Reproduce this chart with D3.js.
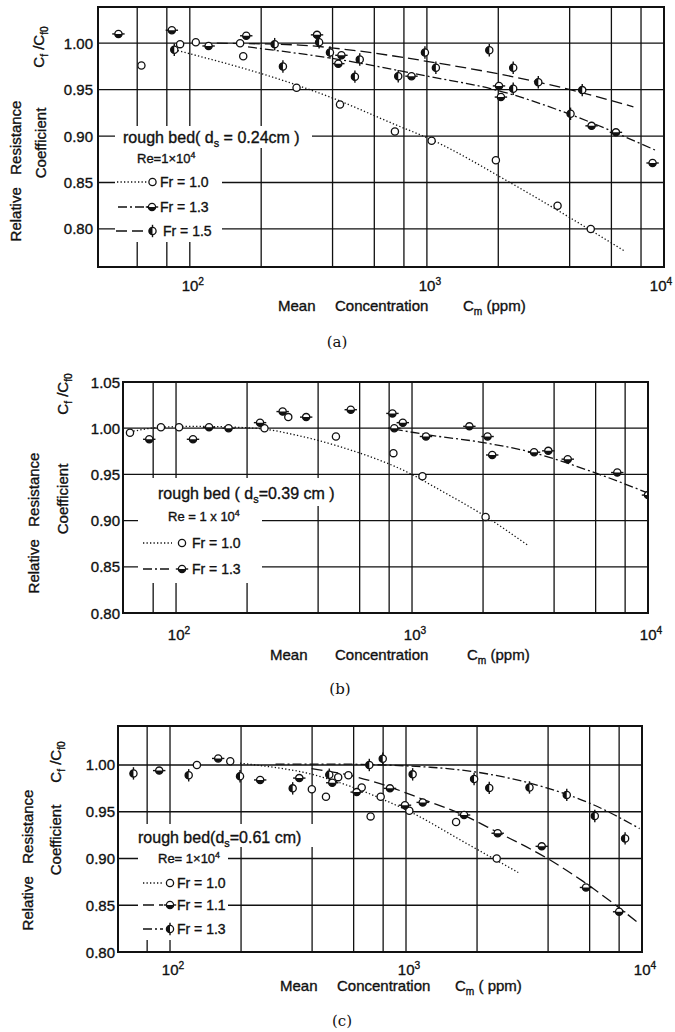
<!DOCTYPE html>
<html><head><meta charset="utf-8">
<script src="https://cdn.jsdelivr.net/npm/d3@7"></script>
<style>
body{margin:0;background:#fff}
svg text{font-family:"Liberation Sans",Arial,sans-serif;fill:#111;stroke:#111;stroke-width:0.35px}
svg text.cap{font-family:"DejaVu Serif","Liberation Serif",serif;stroke-width:0}
</style>
</head><body>
<svg id="c" width="675" height="1032"></svg>
<script>
// ---------- data ----------
const gridX = [60, 80, 100, 200, 400, 600, 800, 1000, 2000, 4000, 6000, 8000];
const xTickVals = [100, 1000, 10000];
const xTickExp = ["2", "3", "4"];
const yTicksA = [0.80, 0.85, 0.90, 0.95, 1.00];
const yTicksB = [0.80, 0.85, 0.90, 0.95, 1.00, 1.05];
const yTicksC = [0.80, 0.85, 0.90, 0.95, 1.00];
const yLabelsA = ["0.80", "0.85", "0.90", "0.95", "1.00"];
const yLabelsB = ["0.80", "0.85", "0.90", "0.95", "1.00", "1.05"];
const yLabelsC = ["0.80", "0.85", "0.90", "0.95", "1.00"];
const captions = ["(a)", "(b)", "(c)"];
const bedSizes = ["0.24cm )", "0.39 cm )", "0.61 cm)"];
const seriesA = ["Fr = 1.0", "Fr = 1.3", "Fr = 1.5"];
const seriesB = ["Fr = 1.0", "Fr = 1.3"];
const seriesC = ["Fr = 1.0", "Fr = 1.1", "Fr = 1.3"];

// panel (a)
const aFr10Pts = [[62.5,0.976],[91,0.999],[106,1.001],[163,1.000],[168,0.986],[282,0.952],[430,0.934],[733,0.905],[1047,0.895],[1954,0.874],[3557,0.825],[4910,0.800]];
const aFr13Pts = [[50,1.010],[84,1.014],[120,0.997],[173,1.008],[344,1.009],[423,0.978],[436,0.987],[861,0.9645],[2014,0.954],[2052,0.942],[4950,0.911],[6270,0.904],[8950,0.871]];
const aFr15Pts = [[86,0.993],[228,0.999],[247,0.975],[351,1.001],[390,0.990],[497,0.964],[521,0.9825],[757,0.9645],[981,0.990],[1091,0.9735],[1833,0.9925],[2312,0.9735],[2312,0.951],[2950,0.958],[4035,0.924],[4520,0.9495]];
const aFr10Fit = [[86,0.993],[282,0.955],[390,0.942],[733,0.9125],[1047,0.896],[2240,0.850],[6840,0.776]];
const aFr13Fit = [[176,0.996],[390,0.984],[1030,0.964],[1967,0.9495],[3770,0.926],[9160,0.885]];
const aFr15Fit = [[130,1.000],[290,0.998],[430,0.994],[1030,0.980],[2720,0.960],[4020,0.950],[7430,0.9315]];

// panel (b)
const bFr10Pts = [[63.8,0.995],[86.3,1.001],[103,1.001],[237,1.000],[299,1.012],[476,0.991],[834,0.973],[1107,0.948],[2050,0.904]];
const bFr13Pts = [[77,0.988],[118,0.988],[138,1.001],[167,1.000],[227,1.006],[283,1.018],[356,1.012],[550,1.020],[826,1.016],[841,1.000],[914,1.006],[1146,0.991],[1750,1.002],[2090,0.991],[2187,0.971],[3290,0.974],[3780,0.9755],[4570,0.9665],[7410,0.952],[10000,0.9276]];
const bFr10Fit = [[63.8,0.996],[86,1.001],[120,1.002],[180,1.001],[237,0.999],[330,0.992],[495,0.980],[980,0.951],[1315,0.933],[2005,0.906],[3110,0.873]];
const bFr13Fit = [[837,0.999],[1190,0.9925],[1940,0.985],[3160,0.9744],[6070,0.951],[10000,0.9298]];

// panel (c)
const cFr10Pts = [[130,1.000],[180,1.004],[399,0.974],[458,0.966],[516,0.987],[570,0.989],[649,0.976],[708,0.945],[781,0.966],[1033,0.951],[1630,0.939],[2423,0.900]];
const cFr11Pts = [[90,0.994],[160,1.007],[241,0.984],[353,0.986],[487,0.981],[618,0.971],[855,0.975],[990,0.957],[1177,0.960],[1762,0.9465],[2446,0.927],[3760,0.913],[5790,0.869],[8000,0.843]];
const cFr13Pts = [[70,0.991],[120,0.989],[198,0.988],[331,0.975],[473,0.9895],[699,1.000],[797,1.0066],[1067,0.990],[1943,0.985],[2253,0.9755],[3336,0.976],[4800,0.968],[6310,0.9455],[8480,0.9215]];
const cFr10Fit = [[198,1.002],[302,0.996],[356,0.993],[525,0.981],[802,0.963],[1040,0.950],[1750,0.918],[2990,0.885]];
const cFr11Fit = [[398,0.996],[599,0.988],[776,0.980],[1187,0.963],[1750,0.9465],[2423,0.9285],[3945,0.9005],[5630,0.8755],[9500,0.8325]];
const cFr13Fit = [[280,1.001],[476,1.001],[1265,0.9976],[2270,0.990],[3945,0.9755],[6030,0.959],[9770,0.932]];

// ---------- drawing ----------
const svg = d3.select("#c");
const INK = "#111";
const dashes = { dot: "1.3 2.2", dashdot: "9 3 2 3", longdash: "11 5" };

function rich(t, parts, size) {
  let cur = 0;
  parts.forEach(([txt, k]) => {
    const s = k === "sub" ? size * 0.28 : k === "sup" ? -size * 0.42 : 0;
    const ts = t.append("tspan").text(txt).attr("dy", s - cur);
    if (k !== "n") ts.attr("font-size", size * 0.68);
    cur = s;
  });
}

function marker(g, type, x, y) {
  const r = 3.6;
  if (type === "h") {
    g.append("line").attr("x1", x - r - 2.6).attr("x2", x + r + 2.6).attr("y1", y).attr("y2", y)
      .attr("stroke", INK).attr("stroke-width", 1.4);
  }
  if (type === "v") {
    g.append("line").attr("x1", x).attr("x2", x).attr("y1", y - r - 2.6).attr("y2", y + r + 2.6)
      .attr("stroke", INK).attr("stroke-width", 1.4);
  }
  g.append("circle").attr("cx", x).attr("cy", y).attr("r", r)
    .attr("fill", "#fff").attr("stroke", INK).attr("stroke-width", 1.3);
  if (type === "h") {
    g.append("path").attr("d", `M${x - r},${y} A${r},${r} 0 0 0 ${x + r},${y} Z`).attr("fill", INK);
  }
  if (type === "v") {
    g.append("path").attr("d", `M${x},${y - r} A${r},${r} 0 0 0 ${x},${y + r} Z`).attr("fill", INK);
  }
}

function drawPanel(P, idx) {
  const g = svg.append("g");
  const xs = d3.scaleLog().domain(P.xdom).range([P.x0, P.x1]);
  const ys = d3.scaleLinear().domain(P.ydom).range([P.y1, P.y0]);
  const cid = "clip" + idx;
  svg.append("clipPath").attr("id", cid).append("rect")
    .attr("x", P.x0).attr("y", P.y0).attr("width", P.x1 - P.x0).attr("height", P.y1 - P.y0);
  const inner = g.append("g").attr("clip-path", `url(#${cid})`);

  // grid
  inner.selectAll("line.gx").data(gridX.filter(v => v > P.xdom[0] * 1.01)).enter().append("line")
    .attr("x1", d => xs(d)).attr("x2", d => xs(d)).attr("y1", P.y0).attr("y2", P.y1)
    .attr("stroke", INK).attr("stroke-width", 1.3);
  inner.selectAll("line.gy").data(P.yTicks.filter(v => v > P.ydom[0] + 0.001 && v < P.ydom[1] - 0.001)).enter().append("line")
    .attr("x1", P.x0).attr("x2", P.x1).attr("y1", d => ys(d)).attr("y2", d => ys(d))
    .attr("stroke", INK).attr("stroke-width", 1.3);

  // legend background (gaps in grid)
  P.legend.bg.forEach(b => inner.append("rect").attr("x", b[0]).attr("y", b[1])
    .attr("width", b[2] - b[0]).attr("height", b[3] - b[1]).attr("fill", "#fff"));

  // fit lines
  const line = d3.line().x(d => xs(d[0])).y(d => ys(d[1])).curve(d3.curveMonotoneX);
  P.series.forEach(s => {
    inner.append("path").attr("d", line(s.fit)).attr("fill", "none").attr("stroke", INK)
      .attr("stroke-width", 1.3).attr("stroke-dasharray", dashes[s.style]);
  });
  // points
  P.series.forEach(s => {
    s.pts.forEach(p => marker(inner, s.mk, xs(p[0]), ys(p[1])));
  });

  // frame
  g.append("rect").attr("x", P.x0).attr("y", P.y0).attr("width", P.x1 - P.x0).attr("height", P.y1 - P.y0)
    .attr("fill", "none").attr("stroke", INK).attr("stroke-width", 2);

  // y tick labels
  P.yTicks.forEach((v, i) => {
    g.append("text").attr("x", P.x0 - P.ylabOff).attr("y", ys(v)).attr("text-anchor", "end")
      .attr("dominant-baseline", "central").attr("font-size", 15).text(P.yLabels[i]);
  });
  // x tick labels
  xTickVals.forEach((v, i) => {
    const x = Math.min(xs(v) + 3, 661);
    const t = g.append("text").attr("x", x).attr("y", P.xlabY).attr("text-anchor", "middle").attr("font-size", 15);
    rich(t, [["10", "n"], [xTickExp[i], "sup"]], 15);
  });
  // x title
  g.append("text").attr("x", P.xt[0]).attr("y", P.xlabT).attr("font-size", 15).text("Mean");
  g.append("text").attr("x", P.xt[1]).attr("y", P.xlabT).attr("font-size", 15).text("Concentration");
  const cm = g.append("text").attr("x", P.xt[2]).attr("y", P.xlabT).attr("font-size", 15);
  rich(cm, [["C", "n"], ["m", "sub"], [" " + P.ppm, "n"]], 15);

  // y titles
  g.append("text").attr("transform", `translate(${P.yt[0][0]},${P.yt[0][1]}) rotate(-90)`)
    .attr("text-anchor", "middle").attr("dominant-baseline", "central").attr("font-size", 15)
    .style("white-space", "pre").text("Relative   Resistance");
  g.append("text").attr("transform", `translate(${P.yt[1][0]},${P.yt[1][1]}) rotate(-90)`)
    .attr("text-anchor", "middle").attr("dominant-baseline", "central").attr("font-size", 15).text("Coefficient");
  const cf = g.append("text").attr("transform", `translate(${P.yt[2][0]},${P.yt[2][1]}) rotate(-90)`)
    .attr("text-anchor", "middle").attr("font-size", 15);
  rich(cf, [["C", "n"], ["f", "sub"], [" /C", "n"], ["f0", "sub"]], 15);

  // legend
  const L = P.legend;
  const tt = g.append("text").attr("x", L.title[0]).attr("y", L.title[1]).attr("font-size", 16);
  rich(tt, [[L.titlePre, "n"], ["s", "sub"], [L.titlePost, "n"]], 16);
  const re = g.append("text").attr("x", L.re[0]).attr("y", L.re[1]).attr("font-size", 13);
  rich(re, [[L.reText, "n"], ["4", "sup"]], 13);
  P.series.forEach((s, i) => {
    const r = L.rows[i];
    g.append("line").attr("x1", r.lx0).attr("x2", r.lx1).attr("y1", r.y).attr("y2", r.y)
      .attr("stroke", INK).attr("stroke-width", 1.3).attr("stroke-dasharray", dashes[s.style]);
    marker(g, s.mk, r.mx, r.y);
    g.append("text").attr("x", r.tx).attr("y", r.y).attr("dominant-baseline", "central")
      .attr("font-size", 14).text(P.names[i]);
  });

  // caption
  svg.append("text").attr("class", "cap").attr("x", P.cap[0]).attr("y", P.cap[1])
    .attr("text-anchor", "middle").attr("font-size", 15).text(captions[idx]);
}

const panels = [
  {
    x0: 98, x1: 664, y0: 7, y1: 267, xdom: [41, 10000], ydom: [0.759, 1.039],
    yTicks: yTicksA, yLabels: yLabelsA, ylabOff: 5, xlabY: 291, xlabT: 311,
    xt: [278, 335, 463], ppm: "(ppm)", cap: [337, 347],
    yt: [[15, 171], [40, 143], [44, 47]],
    names: seriesA,
    series: [
      { pts: aFr10Pts, fit: aFr10Fit, mk: "o", style: "dot" },
      { pts: aFr13Pts, fit: aFr13Fit, mk: "h", style: "dashdot" },
      { pts: aFr15Pts, fit: aFr15Fit, mk: "v", style: "longdash" }
    ],
    legend: {
      bg: [[115, 126, 312, 148], [115, 148, 222, 242]],
      title: [123, 143], titlePre: "rough bed( d", titlePost: " = " + bedSizes[0],
      re: [137, 163], reText: "Re=1×10",
      rows: [
        { y: 182, lx0: 117, lx1: 147, mx: 152.5, tx: 160 },
        { y: 207, lx0: 118, lx1: 148, mx: 152, tx: 160 },
        { y: 231, lx0: 116, lx1: 145, mx: 152.5, tx: 163 }
      ]
    }
  },
  {
    x0: 123, x1: 648, y0: 382, y1: 613, xdom: [59.6, 10000], ydom: [0.80, 1.05],
    yTicks: yTicksB, yLabels: yLabelsB, ylabOff: 3, xlabY: 640, xlabT: 660,
    xt: [270, 335, 467], ppm: "(ppm)", cap: [340, 694],
    yt: [[33, 523], [62, 499], [68, 394]],
    names: seriesB,
    series: [
      { pts: bFr10Pts, fit: bFr10Fit, mk: "o", style: "dot" },
      { pts: bFr13Pts, fit: bFr13Fit, mk: "h", style: "dashdot" }
    ],
    legend: {
      bg: [[138, 478, 346, 506], [138, 506, 262, 583]],
      title: [158, 499], titlePre: "rough bed ( d", titlePost: "=" + bedSizes[1],
      re: [168, 521], reText: "Re = 1 x 10",
      rows: [
        { y: 543, lx0: 143, lx1: 172, mx: 182, tx: 192 },
        { y: 569, lx0: 143, lx1: 172, mx: 182, tx: 192 }
      ]
    }
  },
  {
    x0: 118, x1: 642, y0: 726, y1: 952, xdom: [60.2, 10000], ydom: [0.80, 1.0417],
    yTicks: yTicksC, yLabels: yLabelsC, ylabOff: 3, xlabY: 975, xlabT: 991,
    xt: [280, 337, 455], ppm: "( ppm)", cap: [342, 1026],
    yt: [[27, 860], [55, 840], [61, 762]],
    names: seriesC,
    series: [
      { pts: cFr10Pts, fit: cFr10Fit, mk: "o", style: "dot" },
      { pts: cFr11Pts, fit: cFr11Fit, mk: "h", style: "longdash" },
      { pts: cFr13Pts, fit: cFr13Fit, mk: "v", style: "dashdot" }
    ],
    legend: {
      bg: [[133, 824, 316, 847], [138, 847, 228, 940]],
      title: [138, 843], titlePre: "rough bed(d", titlePost: "=" + bedSizes[2],
      re: [158, 863], reText: "Re= 1×10",
      rows: [
        { y: 883, lx0: 143, lx1: 163, mx: 170, tx: 177 },
        { y: 905, lx0: 143, lx1: 163, mx: 170, tx: 177 },
        { y: 929, lx0: 143, lx1: 163, mx: 170, tx: 177 }
      ]
    }
  }
];

panels.forEach((P, i) => drawPanel(P, i));
</script>
</body></html>
